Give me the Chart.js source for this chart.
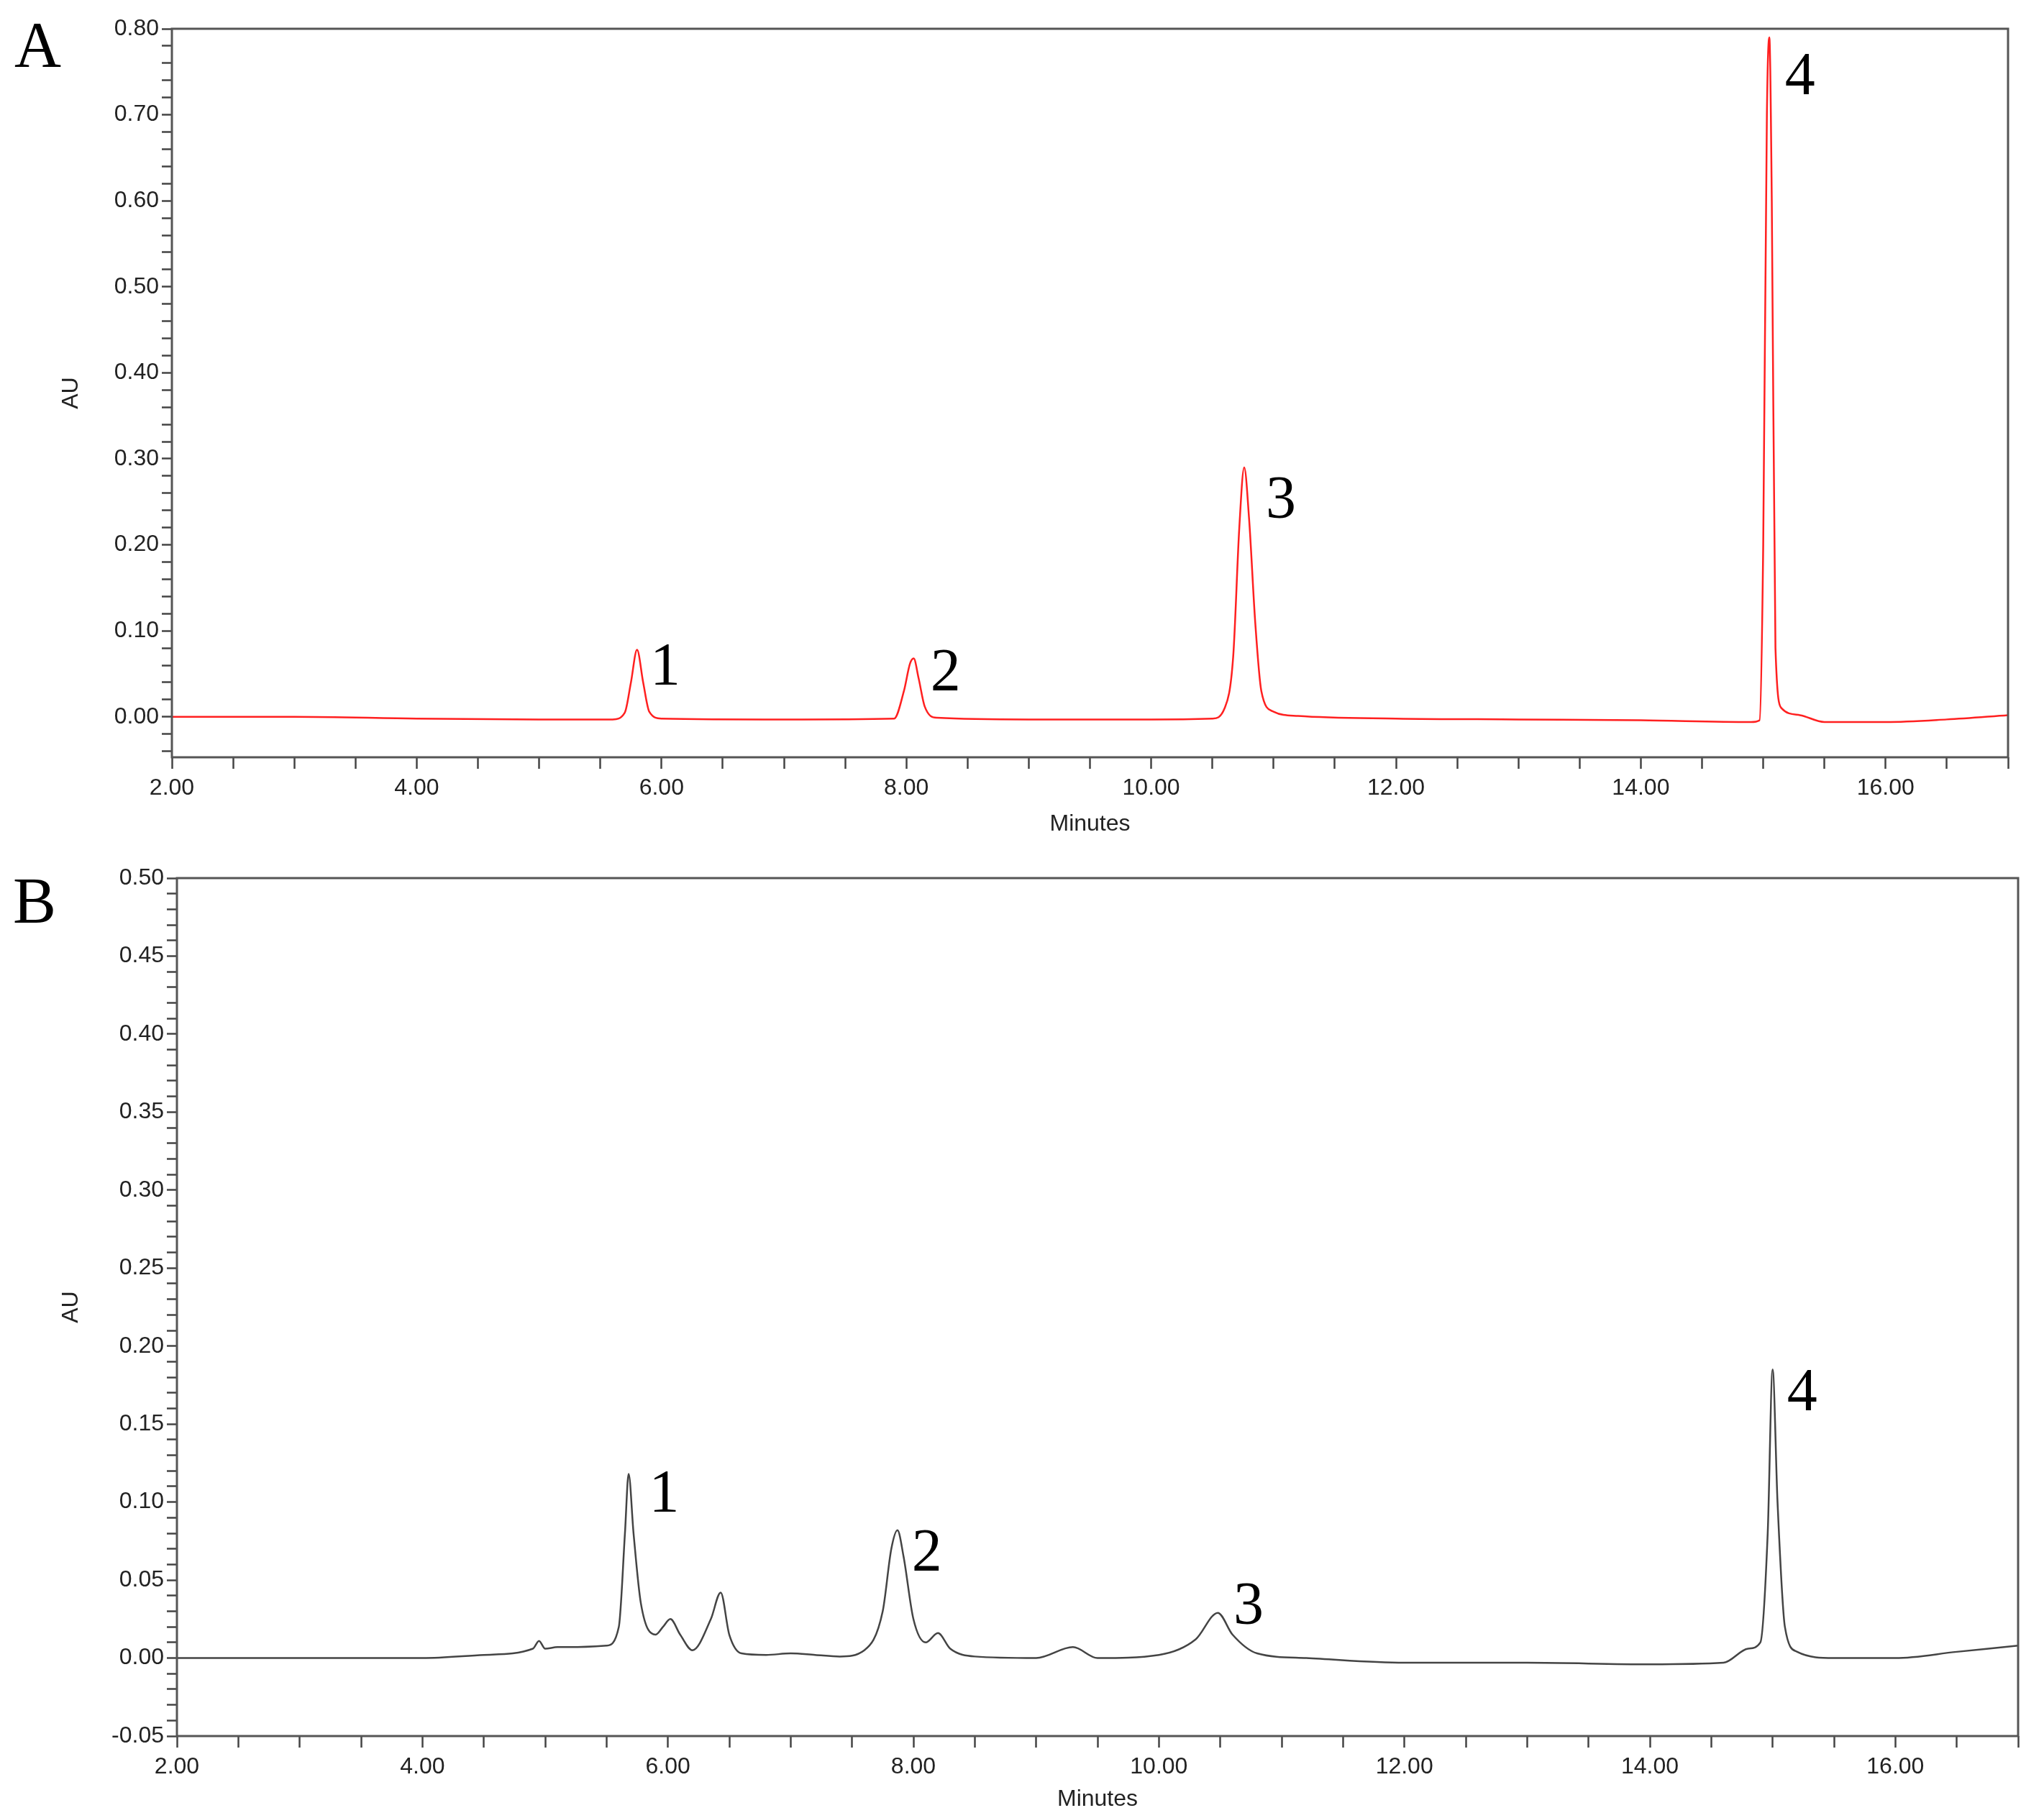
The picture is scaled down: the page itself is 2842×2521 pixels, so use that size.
<!DOCTYPE html>
<html>
<head>
<meta charset="utf-8">
<script src="https://cdn.jsdelivr.net/npm/chart.js@4"></script>
<style>
  body { margin: 0; background: #fff; width: 2842px; height: 2521px; position: relative; overflow: hidden; }
  .wrap { position: absolute; left: 0; width: 2842px; }
  .letter { position: absolute; font-family: "Liberation Serif", serif; font-size: 90px; color: #000; line-height: 1; }
</style>
</head>
<body>
<div class="wrap" style="top:0;height:1190px"><canvas id="chartA"></canvas></div>
<div class="wrap" style="top:1190px;height:1331px"><canvas id="chartB"></canvas></div>
<div class="letter" style="left:20px;top:18px">A</div>
<div class="letter" style="left:18px;top:1208px">B</div>
<script>
// Panel A (standard)
const timesA = [2, 3, 4, 5, 5.6, 5.7, 5.75, 5.8, 5.85, 5.9, 6.0, 7.0, 7.9, 7.98, 8.03, 8.06, 8.1, 8.15, 8.25, 9,
  10, 10.5, 10.6, 10.67, 10.72, 10.76, 10.8, 10.85, 10.9, 11.0, 11.2, 12, 13, 14, 14.9, 14.97, 15.0, 15.03, 15.05, 15.07,
  15.1, 15.15, 15.3, 15.5, 16, 16.5, 17];
const auA = [0, 0, -0.002, -0.003, -0.003, 0.005, 0.04, 0.078, 0.04, 0.006, -0.002, -0.003, -0.002, 0.03, 0.062, 0.068, 0.045, 0.012, -0.001, -0.003,
  -0.003, -0.002, 0.01, 0.07, 0.22, 0.29, 0.23, 0.11, 0.03, 0.006, 0.001, -0.002, -0.003, -0.004, -0.006, -0.004, 0.2, 0.7, 0.79, 0.6,
  0.08, 0.01, 0.002, -0.006, -0.006, -0.003, 0.002];
const peakLabelsA = ["1", "2", "3", "4"];
const peakXA = [6.03, 8.32, 11.06, 15.3];
const peakYA = [0.056, 0.049, 0.25, 0.742];

// Panel B (sample)
const timesB = [2, 3, 4, 4.5, 4.9, 4.95, 5.0, 5.1, 5.2, 5.5, 5.6, 5.65, 5.68, 5.72, 5.78, 5.9, 5.96, 6.02, 6.1, 6.2,
  6.35, 6.43, 6.5, 6.6, 6.8, 7.0, 7.2, 7.4, 7.6, 7.75, 7.82, 7.87, 7.92, 8.0, 8.1, 8.2, 8.3, 8.5, 9, 9.3,
  9.5, 10, 10.3, 10.48, 10.6, 10.8, 11.2, 12, 13, 14, 14.6, 14.8, 14.9, 14.96, 15.0, 15.04, 15.1, 15.2, 15.5, 16, 16.5, 17];
const auB = [0, 0, 0, 0.002, 0.006, 0.011, 0.006, 0.007, 0.007, 0.008, 0.02, 0.08, 0.118, 0.08, 0.035, 0.015, 0.02, 0.025, 0.015, 0.005,
  0.025, 0.042, 0.015, 0.003, 0.002, 0.003, 0.002, 0.001, 0.005, 0.03, 0.07, 0.082, 0.065, 0.025, 0.01, 0.016, 0.006, 0.001, 0, 0.007,
  0, 0.002, 0.012, 0.029, 0.015, 0.003, 0, -0.003, -0.003, -0.004, -0.003, 0.006, 0.01, 0.08, 0.185, 0.1, 0.02, 0.004, 0, 0, 0.004, 0.008];
const peakLabelsB = ["1", "2", "3", "4"];
const peakXB = [5.97, 8.11, 10.73, 15.24];
const peakYB = [0.104, 0.066, 0.032, 0.169];

const xMajor = [2, 4, 6, 8, 10, 12, 14, 16];

const framePlugin = {
  id: "frame",
  afterDatasetsDraw(chart, args, opts) {
    const { ctx, chartArea: a, scales } = chart;
    ctx.save();
    ctx.strokeStyle = "#555";
    ctx.lineWidth = 3;
    ctx.strokeRect(a.left, a.top, a.right - a.left, a.bottom - a.top);
    ctx.fillStyle = "#000";
    ctx.font = "84px 'Liberation Serif', serif";
    ctx.textAlign = "center";
    ctx.textBaseline = "middle";
    opts.labels.forEach((t, i) => {
      ctx.fillText(t, scales.x.getPixelForValue(opts.xs[i]), scales.y.getPixelForValue(opts.ys[i]));
    });
    ctx.restore();
  }
};

function makeChart(id, times, au, color, yMin, yMax, yStep, yMajor, yWidth, xHeight, pad, labels, xs, ys) {
  const tickFont = { family: "'Liberation Sans', Arial, sans-serif", size: 32 };
  new Chart(document.getElementById(id), {
    type: "line",
    data: {
      datasets: [{
        data: times.map((t, i) => ({ x: t, y: au[i] })),
        borderColor: color,
        borderWidth: 2.5,
        pointRadius: 0,
        cubicInterpolationMode: "monotone",
        fill: false
      }]
    },
    options: {
      responsive: true,
      maintainAspectRatio: false,
      animation: false,
      events: [],
      layout: { padding: pad },
      plugins: {
        legend: { display: false },
        tooltip: { enabled: false },
        frame: { labels, xs, ys }
      },
      scales: {
        x: {
          type: "linear",
          min: 2, max: 17,
          afterBuildTicks: s => {
            const arr = [];
            for (let k = 4; k <= 34; k++) arr.push({ value: k / 2 });
            s.ticks = arr;
          },
          afterFit: s => { s.height = xHeight; },
          ticks: {
            autoSkip: false,
            maxRotation: 0,
            color: "#222",
            font: tickFont,
            padding: 8,
            callback: v => xMajor.includes(v) ? v.toFixed(2) : ""
          },
          grid: { drawOnChartArea: false, tickLength: 16, tickWidth: 2.5, tickColor: "#444" },
          border: { display: false },
          title: { display: true, text: "Minutes", color: "#222", font: tickFont, padding: { top: 0, bottom: 0 } }
        },
        y: {
          min: yMin, max: yMax,
          afterBuildTicks: s => {
            const arr = [];
            const k0 = Math.ceil(yMin / yStep - 1e-6), k1 = Math.floor(yMax / yStep + 1e-6);
            for (let k = k0; k <= k1; k++) arr.push({ value: +(k * yStep).toFixed(4) });
            s.ticks = arr;
          },
          afterFit: s => { s.width = yWidth; },
          ticks: {
            autoSkip: false,
            color: "#222",
            font: tickFont,
            padding: 4,
            callback: v => {
              const r = v / yMajor;
              return Math.abs(r - Math.round(r)) < 1e-6 ? v.toFixed(2) : "";
            }
          },
          grid: { drawOnChartArea: false, tickLength: 14, tickWidth: 2.5, tickColor: "#444" },
          border: { display: false },
          title: { display: true, text: "AU", color: "#222", font: tickFont, padding: 0 }
        }
      }
    },
    plugins: [framePlugin]
  });
}

makeChart("chartA", timesA, auA, "#ff2020", -0.047, 0.8, 0.02, 0.1, 159, 112,
  { top: 40, right: 50, left: 80, bottom: 25 }, peakLabelsA, peakXA, peakYA);
makeChart("chartB", timesB, auB, "#444", -0.05, 0.5, 0.01, 0.05, 166, 107,
  { top: 31, right: 36, left: 80, bottom: 0 }, peakLabelsB, peakXB, peakYB);
</script>
</body>
</html>
